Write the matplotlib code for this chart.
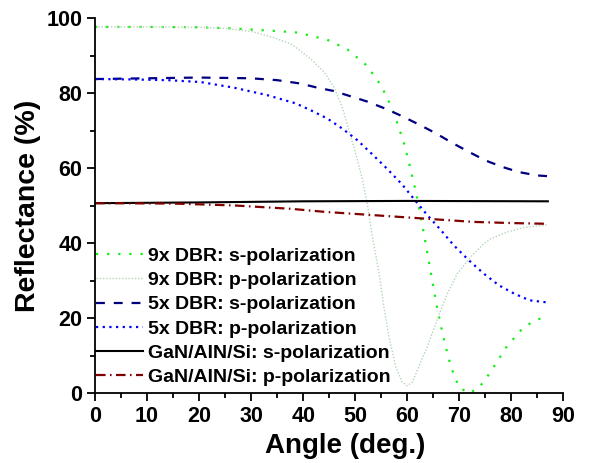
import numpy as np
import matplotlib
matplotlib.use('Agg')
import matplotlib.pyplot as plt

plt.rcParams['font.family'] = ['Liberation Sans', 'DejaVu Sans']
plt.rcParams['font.weight'] = 'bold'

# 9x DBR, s-polarization
ang_9s = [0, 10, 20, 26.7, 30, 35, 38.9, 44.6, 48.5, 52.3, 55.0, 56.9, 58.3, 59.5, 60.5,
          61.4, 62.2, 63.2, 64.3, 65.0, 65.7, 66.5, 67.4, 68.4, 69.9, 71.8, 73.7, 75.2,
          76.5, 77.7, 78.9, 80.5, 82.2, 84.2, 86.2, 87]
r_9s = [97.7, 97.7, 97.6, 97.3, 97.0, 96.6, 96.2, 94.3, 91.7, 87.3, 82.0, 76.5, 71.2, 66.0, 60.5,
        55.2, 49.9, 42.5, 33.9, 28.4, 23.0, 17.7, 12.3, 7.0, 1.7, 0.0, 1.4, 4.1,
        6.8, 9.4, 12.1, 14.7, 17.4, 19.2, 20.3, 21.0]

# 9x DBR, p-polarization
ang_9p = [0, 10, 20, 25, 30, 34, 37.9, 41.4, 44.0, 45.9, 47.5, 48.8, 50.1, 51.4, 52.3,
          53.3, 54.6, 55.5, 56.5, 57.8, 59.0, 60.0, 61.0, 61.9, 63.8, 65.7, 67.7, 69.6,
          72.2, 74.7, 76.0, 79.2, 82.4, 86.2, 87]
r_9p = [97.7, 97.7, 97.6, 97.3, 96.5, 95.0, 93.0, 89.2, 85.7, 81.7, 76.3, 70.1, 63.9, 56.8, 50.6,
        41.7, 31.9, 23.0, 15.0, 7.0, 3.0, 2.0, 3.0, 6.1, 12.3, 19.5, 26.6, 31.9,
        36.4, 39.9, 41.2, 43.0, 44.2, 44.8, 45.0]

# 5x DBR, s-polarization
ang_5s = [0, 10, 20, 30, 35, 39.5, 42.7, 45.9, 49.1, 52.3, 55.8, 59.0, 62.2, 65.4,
          68.6, 71.8, 75.0, 78.2, 81.4, 84.9, 87]
r_5s = [83.8, 84.0, 84.2, 84.0, 83.5, 82.6, 81.5, 80.6, 79.2, 77.8, 75.9, 73.9, 71.7, 69.4,
        66.8, 64.4, 62.1, 60.4, 59.0, 58.1, 57.9]

# 5x DBR, p-polarization
ang_5p = [0, 7, 14, 20.3, 26.7, 33.1, 38.6, 41.7, 44.6, 47.5, 50.4, 53.3, 56.1, 59.0,
          61.4, 63.8, 66.4, 68.9, 71.8, 74.7, 77.6, 80.5, 83.5, 86.5, 87]
r_5p = [83.8, 83.7, 83.5, 83.0, 81.5, 79.5, 77.3, 75.3, 73.3, 70.6, 67.5, 63.7, 59.9, 55.7,
        51.6, 47.6, 43.6, 39.5, 35.5, 31.9, 28.8, 26.6, 24.8, 24.3, 24.2]

# GaN/AlN/Si
ang_gs = [0, 20, 40, 60, 87]
r_gs = [50.7, 50.9, 51.2, 51.3, 51.2]
ang_gp = [0, 15, 26.7, 37.6, 44.0, 53.6, 63.2, 72.8, 80, 87]
r_gp = [50.7, 50.6, 50.1, 49.2, 48.4, 47.5, 46.6, 45.7, 45.4, 45.2]

fig = plt.figure(figsize=(5.9, 4.63), dpi=100)
ax = fig.add_axes([0.161, 0.1505, 0.794, 0.81])

ax.plot(ang_9s, r_9s, color='#11ee11', lw=1.6, linestyle=(0, (1, 4)),
        label='9x DBR: s-polarization')
ax.plot(ang_9p, r_9p, color='#b5d6b5', lw=1.0, linestyle=(0, (1, 1.3)),
        label='9x DBR: p-polarization')
ax.plot(ang_5s, r_5s, color='#000080', lw=1.6, linestyle=(0, (4, 4)),
        label='5x DBR: s-polarization')
ax.plot(ang_5p, r_5p, color='#0000ff', lw=1.6, linestyle=(0, (1, 2)),
        label='5x DBR: p-polarization')
ax.plot(ang_gs, r_gs, color='black', lw=1.5, linestyle='-',
        label='GaN/AIN/Si: s-polarization')
ax.plot(ang_gp, r_gp, color='#800000', lw=1.6, linestyle=(0, (4.3, 2, 0.7, 2)),
        label='GaN/AIN/Si: p-polarization')

ax.set_xlim(0, 90)
ax.set_ylim(0, 100)
ax.set_xticks(np.arange(0, 91, 10))
ax.set_xticks(np.arange(5, 90, 10), minor=True)
ax.set_yticks(np.arange(0, 101, 20))
ax.set_yticks(np.arange(10, 100, 20), minor=True)
ax.tick_params(which='major', direction='out', length=6, width=1.3, labelsize=15.5, pad=3)
ax.tick_params(which='minor', direction='out', length=3.5, width=1.3)
for s in ['top', 'right']:
    ax.spines[s].set_visible(False)
for s in ['left', 'bottom']:
    ax.spines[s].set_linewidth(1.3)

ax.set_xlabel('Angle (deg.)', fontsize=20, fontweight='bold', labelpad=4)
ax.xaxis.set_label_coords(0.534, -0.106)
ax.set_ylabel('Reflectance (%)', fontsize=20.5, fontweight='bold', labelpad=4)

ax.legend(loc='upper left', bbox_to_anchor=(0.002, 0.389), frameon=False,
          fontsize=14, handlelength=2.4, handletextpad=0.3, labelspacing=0.34,
          borderpad=0, borderaxespad=0)

fig.savefig('out.png', dpi=100)
